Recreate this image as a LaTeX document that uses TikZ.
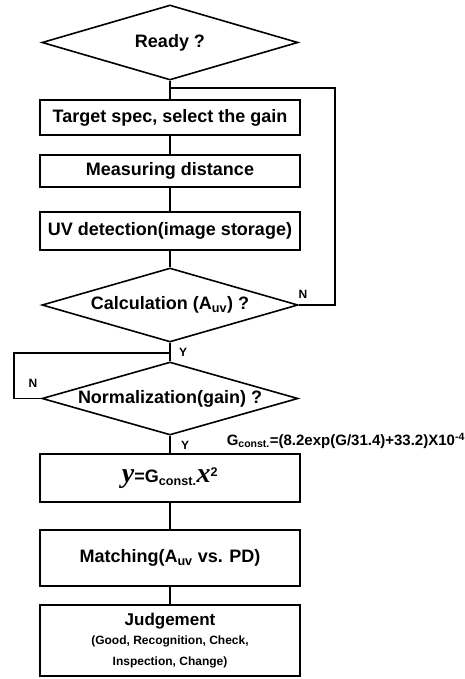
\documentclass[tikz,border=0pt]{standalone}
\usepackage{fontspec}
\setmainfont{Liberation Sans}
\newfontfamily\serifit{Liberation Serif}
\usetikzlibrary{shapes.geometric}

\newcommand{\bigtxt}{\bfseries\fontsize{18}{21}\selectfont}
\newcommand{\smalltxt}{\bfseries\fontsize{12}{19}\selectfont}
\newcommand{\bigvar}[1]{{\serifit\bfseries\itshape\fontsize{28}{28}\selectfont #1}}

\begin{document}
\begin{tikzpicture}[x=1pt, y=-1pt, line width=1.6pt,
	box/.style={draw, rectangle, minimum width=260pt, inner sep=0pt, align=center, font=\bigtxt},
	decision/.style={draw, diamond, aspect=3.4, minimum width=256pt, inner sep=0pt, font=\bigtxt},
	yn/.style={font=\bfseries\fontsize{12}{14}\selectfont, inner sep=0pt}]
	\useasboundingbox (0,0) rectangle (464,679);

	\node [decision, minimum height=75pt] (ready) at (170,42.5) {Ready ?};
	\node [box, minimum height=35pt] (target) at (170,117.5) {Target spec, select the gain};
	\node [box, minimum height=32pt] (measure) at (170,171) {Measuring distance};
	\node [box, minimum height=38pt] (uv) at (170,231) {UV detection(image storage)};
	\node [decision, minimum height=74pt] (calc) at (170,305) {Calculation (A\textsubscript{uv}) ?};
	\node [decision, minimum height=73pt] (norm) at (170,398.5) {Normalization(gain) ?};
	\node [box, minimum height=48pt] (ybox) at (170,478) {\bigvar{y}=G\textsubscript{const.}\bigvar{x}\textsuperscript{2}};
	\node [box, minimum height=56pt] (match) at (170,558) {Matching(A\textsubscript{uv} vs. PD)};
	\node [box, minimum height=71pt] (judge) at (170,640.5) {{\bfseries\fontsize{17}{22}\selectfont Judgement}\\[-2pt]{\smalltxt (Good, Recognition, Check,}\\{\smalltxt Inspection, Change)}};

	\coordinate (jtop) at (170,88);
	\coordinate (rtop) at (335,88);
	\coordinate (jmid) at (170,353);
	\coordinate (lmid) at (14,353);

	\draw (ready.south) -- (target.north);
	\draw (target) -- (measure);
	\draw (measure) -- (uv);
	\draw (uv) -- (calc.north);
	\draw (calc.east) -| (rtop) -- (jtop);
	\draw (calc.south) -- (norm.north);
	\draw (jmid) -- (lmid) |- (norm.west);
	\draw (norm.south) -- (ybox.north);
	\draw (ybox) -- (match);
	\draw (match) -- (judge);

	\node [yn] (n1) at (303,294) {N};
	\node [yn] (y1) at (183,352) {Y};
	\node [yn] (n2) at (33,383) {N};
	\node [yn] (y2) at (185,445) {Y};
	\node [anchor=west, inner sep=0pt, font=\bfseries\fontsize{15}{17}\selectfont] (gform) at (226,441) {G\textsubscript{const.}=(8.2exp(G/31.4)+33.2)X10\textsuperscript{-4}};
\end{tikzpicture}
\end{document}
